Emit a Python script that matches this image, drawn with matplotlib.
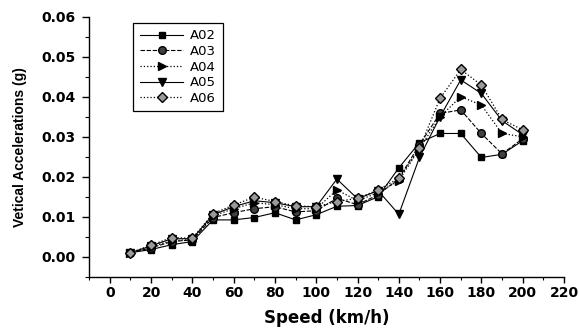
import numpy as np
import matplotlib.pyplot as plt
from matplotlib.ticker import MultipleLocator


# Данные
speed = [10, 20, 30, 40, 50, 60, 70, 80, 90, 100,
         110, 120, 130, 140, 150, 160, 170, 180, 190, 200]
a02 = [0.0010, 0.0018, 0.0030, 0.0038, 0.0092, 0.0092, 0.0098, 0.0110, 0.0092, 0.0105,
       0.0126, 0.0128, 0.0150, 0.0222, 0.0285, 0.0308, 0.0308, 0.0248, 0.0256, 0.0290]
a03 = [0.0010, 0.0022, 0.0038, 0.0042, 0.0098, 0.0110, 0.0120, 0.0125, 0.0112, 0.0115,
       0.0146, 0.0130, 0.0155, 0.0195, 0.0280, 0.0358, 0.0367, 0.0308, 0.0257, 0.0295]
a04 = [0.0010, 0.0025, 0.0040, 0.0043, 0.0102, 0.0120, 0.0135, 0.0130, 0.0120, 0.0120,
       0.0167, 0.0140, 0.0160, 0.0190, 0.0270, 0.0350, 0.0400, 0.0379, 0.0308, 0.0300]
a05 = [0.0010, 0.0027, 0.0045, 0.0045, 0.0105, 0.0125, 0.0140, 0.0135, 0.0125, 0.0125,
       0.0194, 0.0145, 0.0165, 0.0106, 0.0248, 0.0350, 0.0442, 0.0408, 0.0340, 0.0305]
a06 = [0.0010, 0.0029, 0.0048, 0.0046, 0.0108, 0.0129, 0.0149, 0.0138, 0.0127, 0.0125,
       0.0138, 0.0146, 0.0167, 0.0196, 0.0271, 0.0396, 0.0468, 0.0429, 0.0343, 0.0317]

fig = plt.figure(figsize=(5.79, 3.33), dpi=100)
ax = fig.add_axes([0.154, 0.169, 0.820, 0.781])

ax.plot(speed, a02, '-', color='black', lw=0.8, marker='s', ms=5,
        mfc='black', mec='black', label='A02')
ax.plot(speed, a03, '--', color='black', lw=0.8, marker='o', ms=5.5,
        mfc='#404040', mec='black', label='A03', dashes=(4, 1.5))
ax.plot(speed, a04, ':', color='black', lw=0.9, marker='>', ms=6,
        mfc='black', mec='black', label='A04')
ax.plot(speed, a05, '-', color='black', lw=0.8, marker='v', ms=6,
        mfc='black', mec='black', label='A05')
ax.plot(speed, a06, ':', color='black', lw=0.9, marker='D', ms=5,
        mfc='#9a9a9a', mec='black', mew=1.0, label='A06')

ax.set_xlim(-10, 220)
ax.set_ylim(-0.005, 0.06)
ax.xaxis.set_minor_locator(MultipleLocator(10))
ax.yaxis.set_minor_locator(MultipleLocator(0.005))
ax.set_xticks(np.arange(0, 221, 20))
ax.set_yticks(np.arange(0, 0.061, 0.01))
ax.set_yticklabels([f'{v:.2f}' for v in np.arange(0, 0.061, 0.01)])

for side in ['top', 'right']:
    ax.spines[side].set_visible(False)
ax.spines['left'].set_linewidth(1.0)
ax.spines['bottom'].set_linewidth(1.0)
ax.tick_params(axis='y', which='major', direction='out', length=5, width=1.0, pad=5)
ax.tick_params(axis='y', which='minor', direction='out', length=3, width=0.8)
ax.tick_params(axis='x', which='major', direction='out', length=4, width=1.0, pad=3)
ax.tick_params(axis='x', which='minor', direction='out', length=2.5, width=0.8)
for lab in ax.get_xticklabels() + ax.get_yticklabels():
    lab.set_fontfamily('DejaVu Sans')
    lab.set_fontweight('bold')
    lab.set_fontsize(10)

ax.set_xlabel('Speed (km/h)', fontsize=12, fontweight='bold', family='DejaVu Sans', labelpad=6)
ax.set_ylabel('Vetical Accelerations (g)', fontsize=10, fontweight='bold',
              family='Liberation Sans', labelpad=10)

leg = ax.legend(loc='upper left', bbox_to_anchor=(0.093, 0.977), borderaxespad=0,
                fancybox=False, edgecolor='black', framealpha=1, fontsize=9.5,
                handlelength=3.3, labelspacing=0.2, borderpad=0.5, handletextpad=0.5)
leg.get_frame().set_linewidth(0.9)

plt.savefig('out.png', dpi=100)
